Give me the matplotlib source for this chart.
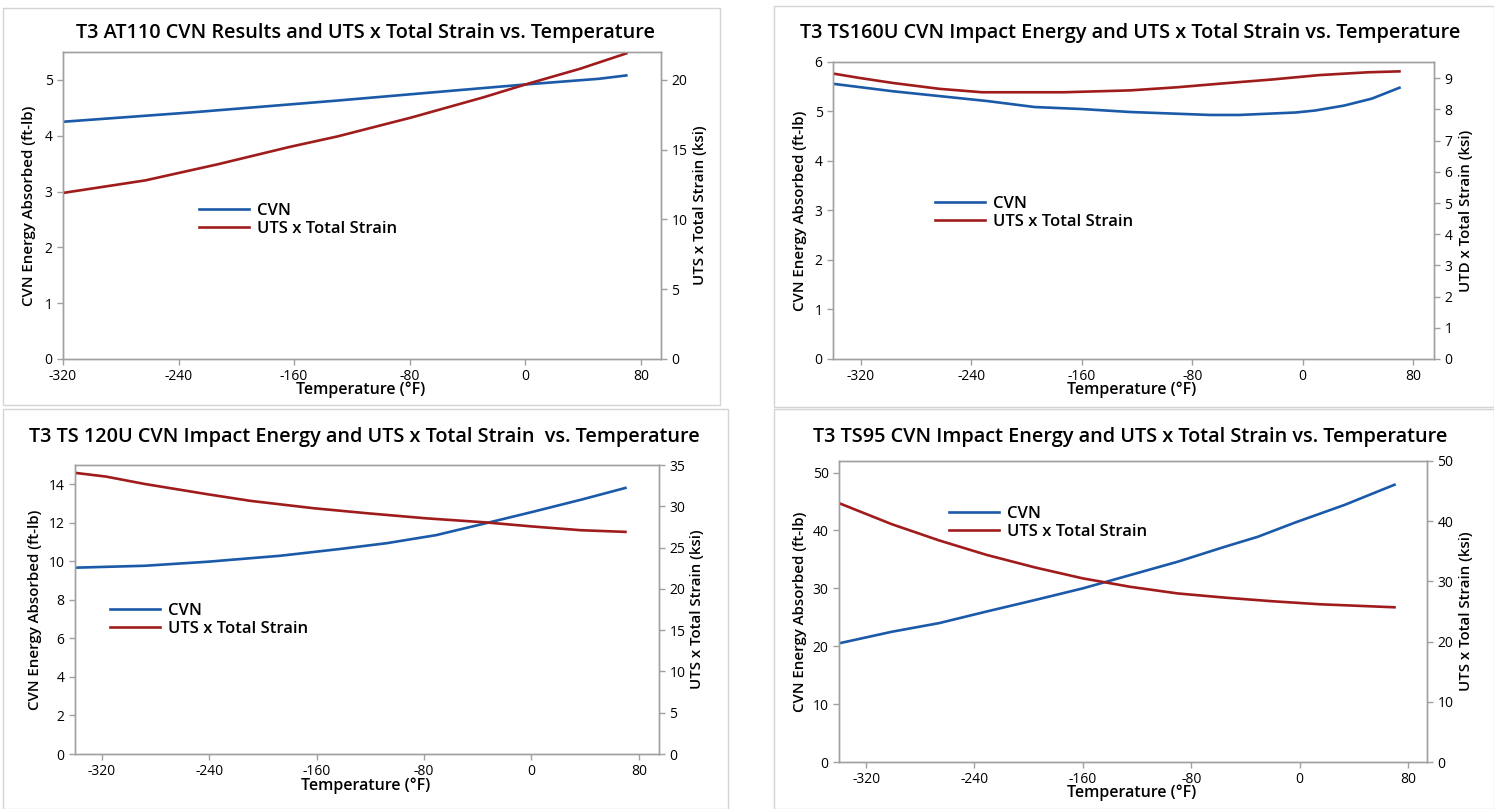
import matplotlib
matplotlib.use("Agg")
import matplotlib.pyplot as plt
from matplotlib.patches import Rectangle
from matplotlib.lines import Line2D

plt.rcParams['font.family'] = ['Open Sans', 'DejaVu Sans']

W, H = 1494, 809
BLUE = '#1a5aa8'
RED = '#a01c1c'
GRID = '#a0a0a0'

# ---------------- data ----------------
# Panel 1: T3 AT110
p1_cvn_t = [-320, -230, -130, -49, 1, 51, 70]
p1_cvn = [4.25, 4.42, 4.63, 4.81, 4.92, 5.02, 5.08]
p1_uts_t = [-320, -263, -213, -163, -130, -79, -29, 1, 38, 70]
p1_uts = [11.9, 12.8, 13.95, 15.2, 15.95, 17.3, 18.75, 19.7, 20.8, 21.9]

# Panel 2: T3 TS160U
p2_cvn_t = [-340, -297, -228, -194, -160, -125, -67, -46, -5, 9, 30, 50, 70]
p2_cvn = [5.56, 5.41, 5.21, 5.09, 5.05, 4.99, 4.93, 4.93, 4.98, 5.02, 5.12, 5.26, 5.48]
p2_uts_t = [-340, -321, -297, -263, -232, -173, -125, -91, -56, -22, 12, 47, 70]
p2_uts = [9.15, 9.01, 8.85, 8.66, 8.55, 8.55, 8.61, 8.71, 8.84, 8.96, 9.1, 9.19, 9.22]

# Panel 3: T3 TS 120U
p3_cvn_t = [-340, -288, -241, -187, -144, -108, -71, -35, 1, 37, 70]
p3_cvn = [9.67, 9.77, 9.98, 10.29, 10.63, 10.94, 11.36, 11.96, 12.57, 13.2, 13.81]
p3_uts_t = [-340, -317, -288, -241, -209, -162, -122, -79, -35, 1, 37, 70]
p3_uts = [34.05, 33.6, 32.7, 31.45, 30.65, 29.76, 29.15, 28.55, 28.06, 27.55, 27.1, 26.9]

# Panel 4: T3 TS95
p4_cvn_t = [-340, -301, -266, -231, -195, -160, -125, -90, -55, -31, -3, 33, 70]
p4_cvn = [20.5, 22.5, 24.0, 26.0, 28.0, 30.0, 32.3, 34.6, 37.2, 38.9, 41.4, 44.4, 47.9]
p4_uts_t = [-340, -301, -266, -231, -195, -160, -125, -90, -55, -20, 15, 70]
p4_uts = [43.0, 39.5, 36.8, 34.4, 32.3, 30.5, 29.1, 28.0, 27.3, 26.7, 26.2, 25.7]

x_ticks = [-320, -240, -160, -80, 0, 80]

fig = plt.figure(figsize=(W / 100, H / 100), dpi=100)

# panel frames
for (l, t, r, b) in [(3, 8, 720, 405), (774, 6, 1494, 407), (3, 409, 728, 809), (774, 409, 1494, 809)]:
    fig.patches.append(Rectangle((l / W, 1 - b / H), (r - l) / W, (b - t) / H,
                                 transform=fig.transFigure, fill=False,
                                 edgecolor='#d4d4d4', lw=1.0))

panels = [
    dict(box=(63, 52, 661, 359), xlim=(-320, 94), ylim=(0, 5.5), y2lim=(0, 22),
         yt=[0, 1, 2, 3, 4, 5], y2t=[0, 5, 10, 15, 20],
         title='T3 AT110 CVN Results and UTS x Total Strain vs. Temperature', tc=(366, 33),
         cvn=(p1_cvn_t, p1_cvn), uts=(p1_uts_t, p1_uts),
         y2label='UTS x Total Strain (ksi)', lx=29, rx=700, xl_y=390, xl_x=361,
         leg=(199, 220)),
    dict(box=(833, 62, 1434, 359), xlim=(-340, 95), ylim=(0, 6), y2lim=(0, 9.52),
         yt=[0, 1, 2, 3, 4, 5, 6], y2t=list(range(10)),
         title='T3 TS160U CVN Impact Energy and UTS x Total Strain vs. Temperature', tc=(1130, 33),
         cvn=(p2_cvn_t, p2_cvn), uts=(p2_uts_t, p2_uts),
         y2label='UTD x Total Strain (ksi)', lx=800, rx=1466, xl_y=390, xl_x=1132,
         leg=(935, 213)),
    dict(box=(75, 465, 659, 754), xlim=(-340, 95), ylim=(0, 15), y2lim=(0, 35),
         yt=[0, 2, 4, 6, 8, 10, 12, 14], y2t=[0, 5, 10, 15, 20, 25, 30, 35],
         title='T3 TS 120U CVN Impact Energy and UTS x Total Strain  vs. Temperature', tc=(364, 437),
         cvn=(p3_cvn_t, p3_cvn), uts=(p3_uts_t, p3_uts),
         y2label='UTS x Total Strain (ksi)', lx=35, rx=697, xl_y=786, xl_x=366,
         leg=(110, 620)),
    dict(box=(839, 461, 1427, 762), xlim=(-340, 94), ylim=(0, 52), y2lim=(0, 50),
         yt=[0, 10, 20, 30, 40, 50], y2t=[0, 10, 20, 30, 40, 50],
         title='T3 TS95 CVN Impact Energy and UTS x Total Strain vs. Temperature', tc=(1130, 437),
         cvn=(p4_cvn_t, p4_cvn), uts=(p4_uts_t, p4_uts),
         y2label='UTS x Total Strain (ksi)', lx=800, rx=1466, xl_y=793, xl_x=1132,
         leg=(949, 523)),
]

LW = 1.9

for p in panels:
    l, t, r, b = p['box']
    ax = fig.add_axes([l / W, 1 - b / H, (r - l) / W, (b - t) / H])
    ax2 = ax.twinx()
    ax.set_xlim(*p['xlim'])
    ax.set_ylim(*p['ylim'])
    ax2.set_ylim(*p['y2lim'])
    ax.set_xticks(x_ticks)
    ax.set_xticklabels([str(v) for v in x_ticks])
    ax.set_yticks(p['yt'])
    ax2.set_yticks(p['y2t'])
    for a in (ax, ax2):
        for s in a.spines.values():
            s.set_color(GRID)
            s.set_linewidth(1.0)
        a.tick_params(colors=GRID, labelcolor='black', labelsize=10, length=4, width=1)
    ax.plot(*p['cvn'], color=BLUE, lw=LW, label='CVN')
    ax2.plot(*p['uts'], color=RED, lw=LW, label='UTS x Total Strain')

    fig.text(p['tc'][0] / W, 1 - p['tc'][1] / H, p['title'], ha='center', va='center',
             fontsize=14.3, fontweight='semibold')
    fig.text(p['xl_x'] / W, 1 - p['xl_y'] / H, 'Temperature (°F)', ha='center', va='center',
             fontsize=11.5, fontweight='semibold')
    ymid = 1 - ((t + b) / 2) / H
    fig.text(p['lx'] / W, ymid, 'CVN Energy Absorbed (ft-lb)', rotation=90,
             ha='center', va='center', fontsize=10.8, fontweight='semibold')
    fig.text(p['rx'] / W, ymid, p['y2label'], rotation=90,
             ha='center', va='center', fontsize=10.8, fontweight='semibold')

    handles = [Line2D([], [], color=BLUE, lw=LW), Line2D([], [], color=RED, lw=LW)]
    lx0, ly0 = p['leg']
    fig.legend(handles, ['CVN', 'UTS x Total Strain'],
               loc='center left', bbox_to_anchor=(lx0 / W, 1 - ly0 / H),
               frameon=False, prop=dict(size=12, weight='semibold'), handlelength=3.0,
               handletextpad=0.5, borderpad=0, labelspacing=0.15,
               borderaxespad=0)

fig.savefig('out.png', dpi=100)
